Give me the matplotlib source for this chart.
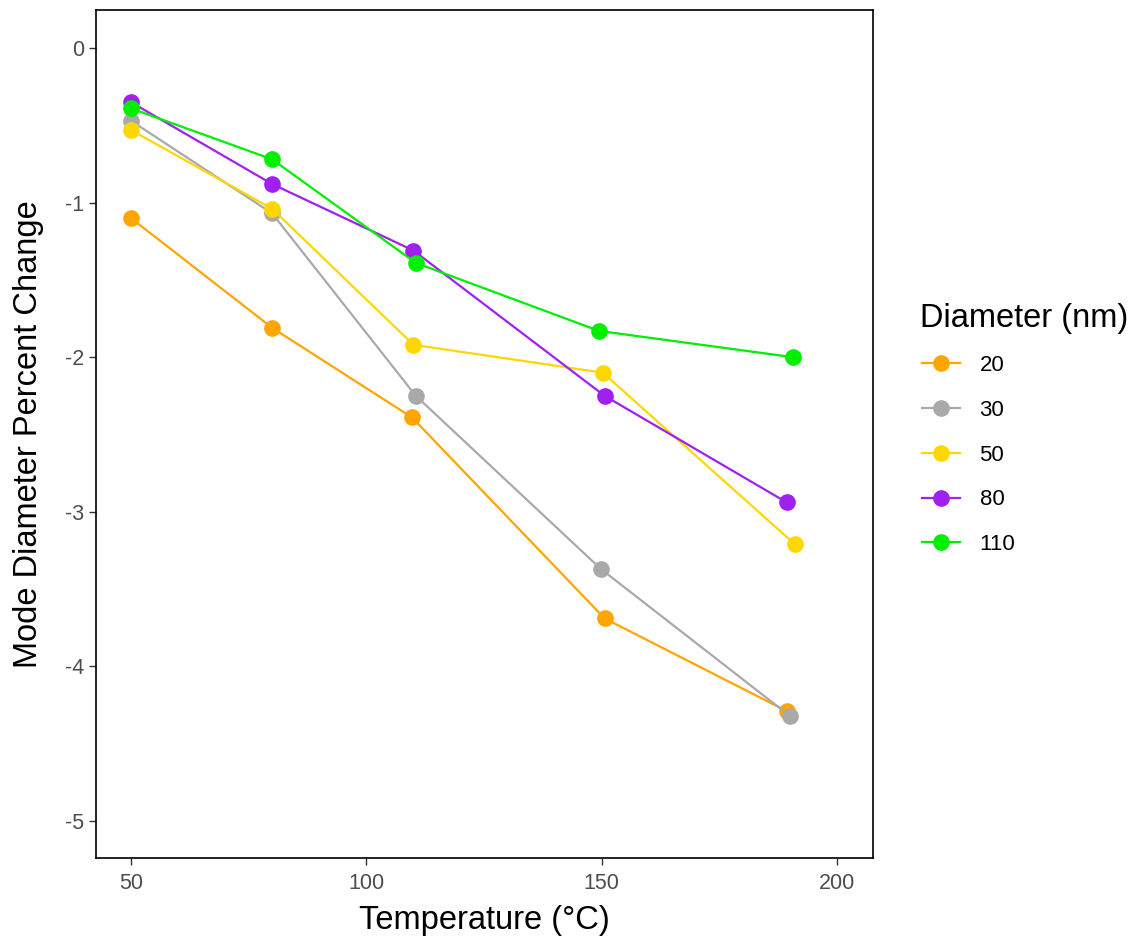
import matplotlib.pyplot as plt
from matplotlib.lines import Line2D

plt.rcParams['font.family'] = ['Liberation Sans', 'DejaVu Sans']
plt.rcParams['axes.unicode_minus'] = False

diameters = ['20', '30', '50', '80', '110']
colors = ['#FFA500', '#A9A9A9', '#FFD700', '#A020F0', '#00EE00']

temp_20 = [50, 80, 109.7, 150.6, 189.3]
pct_20 = [-1.10, -1.81, -2.39, -3.69, -4.29]
temp_30 = [50, 80, 110.5, 149.8, 189.9]
pct_30 = [-0.47, -1.07, -2.25, -3.37, -4.32]
temp_50 = [50, 80, 110, 150.2, 191]
pct_50 = [-0.53, -1.04, -1.92, -2.10, -3.21]
temp_80 = [50, 80, 110, 150.6, 189.3]
pct_80 = [-0.35, -0.88, -1.31, -2.25, -2.94]
temp_110 = [50, 80, 110.5, 149.4, 190.6]
pct_110 = [-0.39, -0.72, -1.39, -1.83, -2.00]

temps = [temp_20, temp_30, temp_50, temp_80, temp_110]
pcts = [pct_20, pct_30, pct_50, pct_80, pct_110]

fig = plt.figure(figsize=(11.3, 9.43), dpi=100)
ax = fig.add_axes([0.085, 0.0901, 0.6876, 0.8993])

for t, p, c, d in zip(temps, pcts, colors, diameters):
    ax.plot(t, p, color=c, lw=1.6, marker='o', markersize=12,
            markeredgewidth=0, label=d)

ax.set_xlim(42.6, 207.6)
ax.set_ylim(-5.24, 0.246)
ax.set_xticks([50, 100, 150, 200])
ax.set_yticks([0, -1, -2, -3, -4, -5])
ax.tick_params(colors='#333333', labelcolor='#4D4D4D', labelsize=15.5,
               length=5, width=1)
ax.tick_params(axis='x', pad=6)
for s in ax.spines.values():
    s.set_linewidth(1.2)
ax.set_xlabel('Temperature (°C)', fontsize=23.5, labelpad=8)
ax.set_ylabel('Mode Diameter Percent Change', fontsize=23.5, labelpad=15)

# legend title placed separately so entry spacing can match
fig.text(920 / 1130, 1 - 319 / 943, 'Diameter (nm)', fontsize=23.5,
         ha='left', va='center')
handles = [Line2D([0], [0], color=c, lw=1.6, marker='o', markersize=12,
                  markeredgewidth=0) for c in colors]
leg = fig.legend(handles, diameters, loc='upper left',
                 bbox_to_anchor=(0.798, 1 - 335 / 943),
                 frameon=False, fontsize=16,
                 handlelength=1.7, handletextpad=0.9, labelspacing=1.07)

fig.savefig('out.png', dpi=100)
